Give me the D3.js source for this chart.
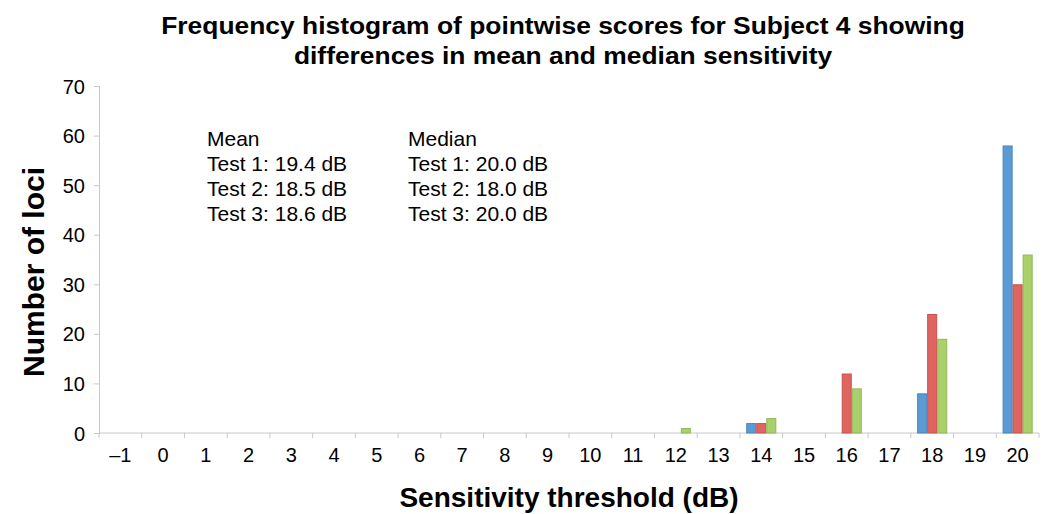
<!DOCTYPE html>
<html><head><meta charset="utf-8">
<script src="https://cdn.jsdelivr.net/npm/d3@7"></script>
<style>body{margin:0;background:#fff}svg{display:block}text{font-family:"Liberation Sans",Arial,sans-serif;fill:#000}</style>
</head><body><svg id="c" width="1043" height="514"></svg>
<script>
const categories = [-1,0,1,2,3,4,5,6,7,8,9,10,11,12,13,14,15,16,17,18,19,20];
const tickLabels = ["–1","0","1","2","3","4","5","6","7","8","9","10","11","12","13","14","15","16","17","18","19","20"];
const test1 = [0,0,0,0,0,0,0,0,0,0,0,0,0,0,0,2,0,0,0,8,0,58];
const test2 = [0,0,0,0,0,0,0,0,0,0,0,0,0,0,0,2,0,12,0,24,0,30];
const test3 = [0,0,0,0,0,0,0,0,0,0,0,0,0,1,0,3,0,9,0,19,0,36];
const seriesNames = ["Test 1","Test 2","Test 3"];
const yTicks = [0,10,20,30,40,50,60,70];
const titleLines = ["Frequency histogram of pointwise scores for Subject 4 showing","differences in mean and median sensitivity"];
const meanLines = ["Mean","Test 1: 19.4 dB","Test 2: 18.5 dB","Test 3: 18.6 dB"];
const medianLines = ["Median","Test 1: 20.0 dB","Test 2: 18.0 dB","Test 3: 20.0 dB"];

const fills = ["#5b9bd5","#e0645f","#a9d06b"];
const strokes = ["#4a84bd","#c9514c","#90b757"];

const svg = d3.select("#c");
const L=99, R=1039, T=86, B=433;
const x = d3.scaleBand().domain(categories).range([L,R]).padding(0);
const xs = d3.scaleBand().domain(seriesNames).range([0,x.bandwidth()]).paddingInner(0).paddingOuter(0.63);
const y = d3.scaleLinear().domain([0,70]).range([B,T]);

// axes
const ya = svg.append("g").attr("transform",`translate(${L},0)`)
  .call(d3.axisLeft(y).tickValues(yTicks).tickSize(5).tickPadding(9).tickFormat(d3.format("d")));
ya.select(".domain").attr("stroke","#c8c8c8");
ya.selectAll(".tick line").attr("stroke","#c8c8c8");
ya.selectAll(".tick text").style("font-size","20px").attr("dy","0.35em");

const bounds = categories.map(c=>x(c)).concat([R]);
const xa = svg.append("g").attr("transform",`translate(0,${B})`);
xa.append("line").attr("x1",L).attr("x2",R).attr("stroke","#c8c8c8");
xa.selectAll("line.t").data(bounds).join("line").attr("class","t")
  .attr("x1",d=>d).attr("x2",d=>d).attr("y1",0).attr("y2",5).attr("stroke","#c8c8c8");
xa.selectAll("text").data(categories).join("text")
  .attr("x",d=>x(d)+x.bandwidth()/2).attr("y",29).attr("text-anchor","middle")
  .style("font-size","20px").text((d,i)=>tickLabels[i]);

// bars
const all = [test1,test2,test3];
all.forEach((vals,si)=>{
  svg.append("g").selectAll("rect").data(categories.map((c,i)=>({c,v:vals[i]})).filter(d=>d.v>0))
    .join("rect")
    .attr("x",d=>x(d.c)+xs(seriesNames[si])+0.5)
    .attr("width",xs.bandwidth()-1)
    .attr("y",d=>y(d.v)+0.5)
    .attr("height",d=>B-y(d.v)-0.5)
    .attr("fill",fills[si]).attr("stroke",strokes[si]).attr("stroke-width",1);
});

// title
svg.append("g").selectAll("text").data(titleLines).join("text")
  .attr("transform",(d,i)=>`translate(563,${34+i*30}) scale(1.1,1)`).attr("text-anchor","middle")
  .style("font-size","24px").style("font-weight","bold").text(d=>d);

// annotations
svg.append("g").selectAll("text").data(meanLines).join("text")
  .attr("x",207).attr("y",(d,i)=>146+i*25).style("font-size","21px").text(d=>d);
svg.append("g").selectAll("text").data(medianLines).join("text")
  .attr("x",408).attr("y",(d,i)=>146+i*25).style("font-size","21px").text(d=>d);

// axis titles
svg.append("text").attr("transform","translate(44,272) rotate(-90)").attr("text-anchor","middle")
  .style("font-size","30px").style("font-weight","bold").text("Number of loci");
svg.append("text").attr("x",569).attr("y",507).attr("text-anchor","middle")
  .style("font-size","28px").style("font-weight","bold").text("Sensitivity threshold (dB)");
</script></body></html>
